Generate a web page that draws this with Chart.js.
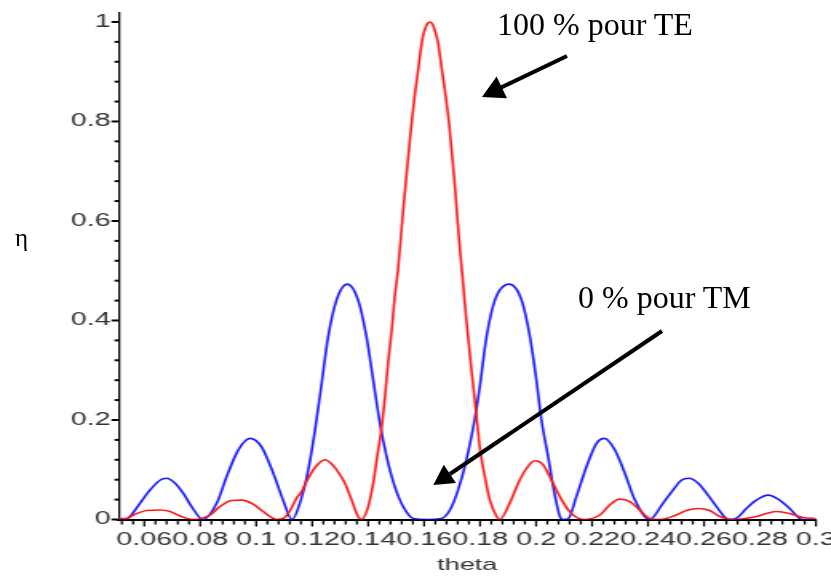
<!DOCTYPE html>
<html>
<head>
<meta charset="utf-8">
<script src="https://cdn.jsdelivr.net/npm/chart.js@4.4.1/dist/chart.umd.min.js"></script>
<style>
  html, body { margin: 0; padding: 0; background: #fff; }
  #page { position: relative; width: 831px; height: 577px; overflow: hidden; }
  /* the original plot is stretched sideways, so the chart is drawn narrow and scaled */
  #plot { position: absolute; left: 0; top: 0; width: 520px; height: 577px; transform: scaleX(1.598); transform-origin: 0 0; }
  #notes { position: absolute; left: 0; top: 0; }
</style>
</head>
<body>
<div id="page">
  <div id="plot"><canvas id="chart"></canvas></div>
  <svg id="notes" width="831" height="577">
    <text x="15" y="246" font-family="Liberation Serif" font-size="25" fill="#000">η</text>
    <text x="497" y="35" font-family="Liberation Serif" font-size="32" fill="#000">100 % pour TE</text>
    <line x1="567" y1="56" x2="500" y2="88" stroke="#000" stroke-width="4"/>
    <polygon points="482,97 507,98.3 496.6,76.6" fill="#000"/>
    <text x="578" y="308" font-family="Liberation Serif" font-size="32" fill="#000">0 % pour TM</text>
    <line x1="662" y1="331" x2="450" y2="474" stroke="#000" stroke-width="4"/>
    <polygon points="433.3,485 456,482.9 443.8,464.7" fill="#000"/>
  </svg>
</div>
<script>
const STRETCH = 831 / 520;

// TE (red)
const teTheta = [0.0508, 0.0535, 0.0561, 0.0609, 0.0656, 0.0692, 0.0728, 0.0774,
  0.0835, 0.0870, 0.0912, 0.0948, 0.0989, 0.1025, 0.1061, 0.1074,
  0.1096, 0.1120, 0.1144, 0.1162, 0.1174, 0.1192, 0.1204, 0.1224, 0.1245, 0.1267, 0.1287, 0.1317, 0.1341, 0.1364, 0.1376,
  0.1400, 0.1418, 0.1432, 0.1448, 0.1460, 0.1471, 0.1484, 0.1495, 0.1507, 0.1525, 0.1535, 0.1546, 0.1555, 0.1567, 0.1579, 0.1587, 0.1596, 0.1608,
  0.1620,
  0.1632, 0.1644, 0.1650, 0.1662, 0.1674, 0.1689, 0.1698, 0.1710, 0.1718, 0.1728, 0.1737, 0.1745, 0.1757, 0.1769, 0.1778, 0.1787, 0.1799, 0.1817, 0.1835, 0.1859, 0.1870,
  0.1906, 0.1936, 0.1966, 0.1995, 0.2025, 0.2055, 0.2085, 0.2120, 0.2170,
  0.2228, 0.2263, 0.2299, 0.2335, 0.2370, 0.2406, 0.2442,
  0.2501, 0.2537, 0.2579, 0.2620, 0.2656, 0.2703,
  0.2787, 0.2823, 0.2859, 0.2906, 0.2954, 0.3000];
const teEta = [0.002, 0.002, 0.009, 0.018, 0.019, 0.016, 0.007, 0,
  0.009, 0.026, 0.038, 0.039, 0.031, 0.016, 0.002, 0,
  0.002, 0.017, 0.043, 0.056, 0.070, 0.089, 0.100, 0.113, 0.120, 0.113, 0.100, 0.073, 0.039, 0.006, 0,
  0.026, 0.073, 0.126, 0.185, 0.247, 0.314, 0.381, 0.448, 0.505, 0.620, 0.680, 0.745, 0.795, 0.855, 0.905, 0.940, 0.972, 0.993,
  1.000,
  0.993, 0.972, 0.957, 0.910, 0.863, 0.796, 0.743, 0.669, 0.609, 0.542, 0.488, 0.435, 0.367, 0.300, 0.255, 0.207, 0.145, 0.086, 0.039, 0.006, 0,
  0.033, 0.073, 0.103, 0.118, 0.110, 0.079, 0.046, 0.016, 0,
  0.009, 0.029, 0.041, 0.036, 0.019, 0.002, 0,
  0.009, 0.018, 0.022, 0.018, 0.006, 0,
  0.006, 0.012, 0.016, 0.012, 0.004, 0.002];

// TM (blue)
const tmTheta = [0.0508, 0.0531, 0.0549, 0.0585, 0.0620, 0.0656, 0.0680, 0.0710, 0.0739, 0.0769, 0.0810,
  0.0859, 0.0894, 0.0936, 0.0978, 0.1019, 0.1061, 0.1096, 0.1128,
  0.1156, 0.1186, 0.1210, 0.1234, 0.1257, 0.1287, 0.1325, 0.1364, 0.1394, 0.1418, 0.1442, 0.1466, 0.1495, 0.1525, 0.1561,
  0.1610,
  0.1662, 0.1692, 0.1721, 0.1751, 0.1781, 0.1799, 0.1823, 0.1853, 0.1904, 0.1948, 0.1978, 0.2001, 0.2019, 0.2043, 0.2061, 0.2085, 0.2096,
  0.2114, 0.2144, 0.2180, 0.2216, 0.2245, 0.2281, 0.2317, 0.2353, 0.2406,
  0.2454, 0.2489, 0.2519, 0.2546, 0.2579, 0.2614, 0.2650, 0.2680, 0.2695,
  0.2720, 0.2751, 0.2787, 0.2829, 0.2870, 0.2906, 0.2942, 0.2956, 0.3000];
const tmEta = [0, 0, 0.006, 0.033, 0.059, 0.079, 0.083, 0.073, 0.053, 0.026, 0,
  0.033, 0.086, 0.140, 0.163, 0.146, 0.093, 0.039, 0,
  0.033, 0.100, 0.180, 0.274, 0.367, 0.441, 0.473, 0.441, 0.367, 0.280, 0.193, 0.126, 0.066, 0.026, 0.002,
  0,
  0.002, 0.019, 0.059, 0.120, 0.203, 0.267, 0.367, 0.441, 0.473, 0.441, 0.367, 0.280, 0.200, 0.126, 0.066, 0.006, 0,
  0.001, 0.046, 0.106, 0.153, 0.163, 0.140, 0.093, 0.039, 0,
  0.033, 0.059, 0.079, 0.083, 0.073, 0.049, 0.022, 0.002, 0,
  0.004, 0.022, 0.039, 0.049, 0.039, 0.022, 0.002, 0, 0];

const xTickValues = [0.06, 0.08, 0.1, 0.12, 0.14, 0.16, 0.18, 0.2, 0.22, 0.24, 0.26, 0.28, 0.3];
const xTickLabels = ['0.06', '0.08', '0.1', '0.12', '0.14', '0.16', '0.18', '0.2', '0.22', '0.24', '0.26', '0.28', '0.3'];
const yTickValues = [0, 0.2, 0.4, 0.6, 0.8, 1];
const yTickLabels = ['0', '0.2', '0.4', '0.6', '0.8', '1'];

function toPoints(xs, ys) {
  return xs.map((x, i) => ({ x: x, y: ys[i] }));
}

// keep the plot area where I put it, no extra room for the end labels
function noPadding(s) {
  s.paddingLeft = 0;
  s.paddingRight = 0;
  s.paddingTop = 0;
  s.paddingBottom = 0;
}

// tick marks, long ones at the labels, short ones in between
const tickMarks = {
  id: 'tickMarks',
  afterDraw(chart) {
    const ctx = chart.ctx;
    const xs = chart.scales.x;
    const ys = chart.scales.y;
    const area = chart.chartArea;
    ctx.save();
    ctx.strokeStyle = '#000';
    ctx.lineWidth = 2 / STRETCH;
    for (let k = 13; k <= 75; k++) {
      const px = xs.getPixelForValue(k * 0.004);
      const len = k % 5 === 0 ? 7 : 5;
      ctx.beginPath();
      ctx.moveTo(px, area.bottom);
      ctx.lineTo(px, area.bottom + len);
      ctx.stroke();
    }
    ctx.lineWidth = 2;
    for (let k = 0; k <= 25; k++) {
      const py = ys.getPixelForValue(k * 0.04);
      const len = (k % 5 === 0 ? 7 : 4) / STRETCH;
      ctx.beginPath();
      ctx.moveTo(area.left, py);
      ctx.lineTo(area.left - len, py);
      ctx.stroke();
    }
    ctx.restore();
  }
};

const tickFont = { family: 'Liberation Sans', size: 18 };

new Chart(document.getElementById('chart'), {
  type: 'line',
  data: {
    datasets: [
      {
        label: 'TE',
        data: toPoints(teTheta, teEta),
        borderColor: '#ff1a1a',
        borderWidth: 1.6,
        cubicInterpolationMode: 'monotone',
        pointRadius: 0,
        fill: false
      },
      {
        label: 'TM',
        data: toPoints(tmTheta, tmEta),
        borderColor: '#1a1aff',
        borderWidth: 1.6,
        cubicInterpolationMode: 'monotone',
        pointRadius: 0,
        fill: false
      }
    ]
  },
  options: {
    responsive: true,
    maintainAspectRatio: false,
    animation: false,
    layout: { padding: { left: 0, right: 9.4, top: 13, bottom: 0 }, autoPadding: false },
    plugins: { legend: { display: false }, tooltip: { enabled: false } },
    scales: {
      x: {
        type: 'linear',
        min: 0.0508,
        max: 0.3,
        grid: { display: false, drawTicks: false },
        border: { display: true, color: '#000', width: 2 },
        afterBuildTicks: (s) => { s.ticks = xTickValues.map(v => ({ value: v })); },
        afterFit: (s) => { s.height = 57.5; noPadding(s); },
        ticks: {
          callback: (v, i) => xTickLabels[i],
          color: '#333',
          font: tickFont,
          padding: 10,
          autoSkip: false,
          maxRotation: 0,
          minRotation: 0
        },
        title: {
          display: true,
          text: 'theta',
          color: '#333',
          font: { family: 'Liberation Sans', size: 17 },
          padding: { top: 0, bottom: 1 }
        }
      },
      y: {
        min: 0,
        max: 1.018,
        grid: { display: false, drawTicks: false },
        border: { display: true, color: '#000', width: 2 / STRETCH },
        afterBuildTicks: (s) => { s.ticks = yTickValues.map(v => ({ value: v })); },
        afterFit: (s) => { s.width = 74.15; noPadding(s); },
        ticks: {
          callback: (v, i) => yTickLabels[i],
          color: '#333',
          font: tickFont,
          padding: 5
        }
      }
    }
  },
  plugins: [tickMarks]
});
</script>
</body>
</html>
